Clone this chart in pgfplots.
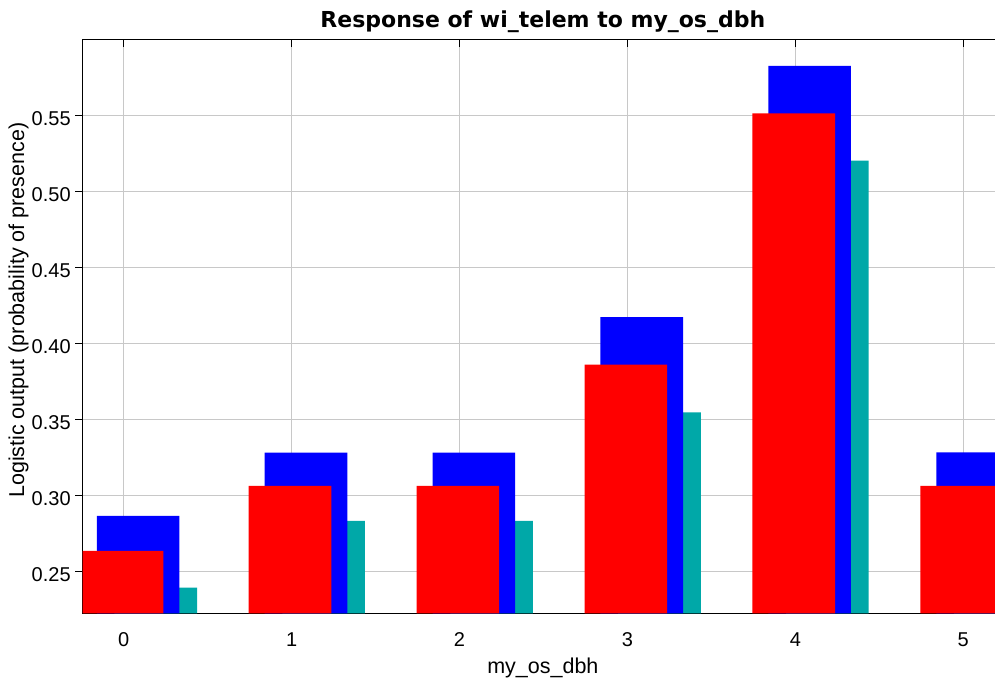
\documentclass[border=0pt]{standalone}
\usepackage{fontspec}
\setmainfont{Liberation Sans}
\newfontfamily\titlefont{DejaVu Sans}
\usepackage{pgfplots}
\usepackage{pgfplotstable}
\pgfplotsset{compat=1.18}
\definecolor{barblue}{RGB}{0,0,255}
\definecolor{barred}{RGB}{255,0,0}
\definecolor{barcyan}{RGB}{0,168,168}
\definecolor{gridgray}{RGB}{200,200,200}
\pgfplotstableread{
x cyan blue red
0 0.2395 0.2867 0.2637
1 0.2834 0.3283 0.3064
2 0.2834 0.3283 0.3064
3 0.3548 0.4174 0.3861
4 0.5202 0.5826 0.5513
5 0.2834 0.3285 0.3064
}\datatable
\begin{document}
\begin{tikzpicture}
\useasboundingbox (0,0) rectangle (995pt,679pt);
\begin{axis}[
  at={(82.7pt,65.7pt)}, anchor=south west,
  scale only axis, width=920.3pt, height=574pt,
  xmin=-0.2442, xmax=5.237, ymin=0.2227, ymax=0.600,
  xtick={0,1,2,3,4,5},
  xticklabels={0,1,2,3,4,5},
  ytick={0.25,0.3,0.35,0.4,0.45,0.5,0.55},
  yticklabels={0.25,0.30,0.35,0.40,0.45,0.50,0.55},
  xtick pos=both, xticklabel pos=left,
  ytick pos=left,
  tick align=inside,
  major tick length=7.5pt,
  tick style={black, line width=1.2pt},
  y tick style={xshift=-7.5pt},
  grid=major,
  major grid style={gridgray, line width=1.2pt},
  axis line style={black, line width=1.3pt},
  tick label style={font=\fontsize{20}{24}\selectfont},
  y tick label style={xshift=-8.5pt, yshift=-3pt},
  x tick label style={anchor=base, yshift=-33.4pt},
  title={Response of wi\_telem to my\_os\_dbh},
  title style={at={(0.5,1)}, anchor=base, yshift=5.6pt, font=\titlefont\bfseries\fontsize{22}{26}\selectfont},
  xlabel={my\_os\_dbh},
  xlabel style={at={(0.5,0)}, anchor=base, yshift=-60pt, font=\fontsize{21.5}{25}\selectfont},
  ylabel={Logistic output (probability of presence)},
  ylabel style={at={(-0.0698,0.528)}, anchor=center, font=\fontsize{21.5}{25}\selectfont},
]
\addplot[ybar, bar width=0.492, bar shift=0.191, fill=barcyan, draw=none] table[x=x, y=cyan] {\datatable};
\addplot[ybar, bar width=0.492, bar shift=0.0855, fill=barblue, draw=none] table[x=x, y=blue] {\datatable};
\addplot[ybar, bar width=0.492, bar shift=-0.0095, fill=barred, draw=none] table[x=x, y=red] {\datatable};
\end{axis}
\end{tikzpicture}
\end{document}
